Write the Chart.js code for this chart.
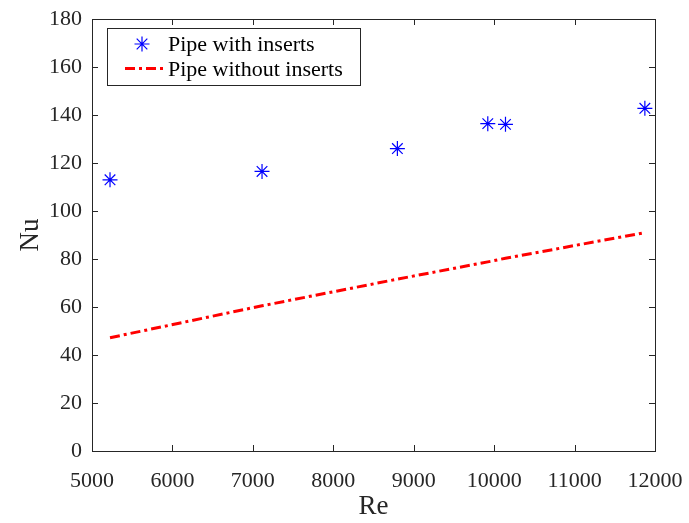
<!DOCTYPE html>
<html>
<head>
<meta charset="utf-8">
<script src="https://cdn.jsdelivr.net/npm/chart.js@4.4.0/dist/chart.umd.min.js"></script>
<style>
  body { margin: 0; background: #fff; }
  #wrap { width: 689px; height: 523px; }
</style>
</head>
<body>
<div id="wrap"><canvas id="chart" width="689" height="523"></canvas></div>
<script>
// Re values where the measurements were taken
var reValues = [5224, 7114, 8797, 9921, 10141, 11874];
// Nu, pipe with inserts (markers)
var nuInserts = [113.0, 116.5, 126.0, 136.4, 136.1, 142.8];
// Nu, pipe without inserts (dash-dot line)
var nuPlain = [47.2, 60.5, 71.6, 78.8, 80.3, 91.0];
var xTicks = [5000, 6000, 7000, 8000, 9000, 10000, 11000, 12000];
var yTicks = [0, 20, 40, 60, 80, 100, 120, 140, 160, 180];
var seriesNames = ["Pipe with inserts", "Pipe without inserts"];

var axisColor = "#262626";
var serif = "'Liberation Serif', 'Times New Roman', serif";

function toPoints(xs, ys) {
  return xs.map(function(x, i) { return {x: x, y: ys[i]}; });
}

function drawStar(ctx, x, y, r) {
  var d = r * Math.SQRT1_2;
  ctx.beginPath();
  ctx.moveTo(x - r, y); ctx.lineTo(x + r, y);
  ctx.moveTo(x, y - r); ctx.lineTo(x, y + r);
  ctx.moveTo(x - d, y - d); ctx.lineTo(x + d, y + d);
  ctx.moveTo(x - d, y + d); ctx.lineTo(x + d, y - d);
  ctx.stroke();
}

// box round the axes with inward ticks, like matlab
var framePlugin = {
  id: "frame",
  afterDraw: function(chart) {
    var ctx = chart.ctx;
    var a = chart.chartArea;
    var xs = chart.scales.x, ys = chart.scales.y;
    var len = 6;
    ctx.save();
    ctx.strokeStyle = axisColor;
    ctx.lineWidth = 1;
    ctx.strokeRect(Math.round(a.left) + 0.5, Math.round(a.top) + 0.5,
      Math.round(a.right - a.left), Math.round(a.bottom - a.top));
    ctx.beginPath();
    xTicks.forEach(function(v) {
      var px = Math.round(xs.getPixelForValue(v)) + 0.5;
      ctx.moveTo(px, a.bottom); ctx.lineTo(px, a.bottom - len);
      ctx.moveTo(px, a.top); ctx.lineTo(px, a.top + len);
    });
    yTicks.forEach(function(v) {
      var py = Math.round(ys.getPixelForValue(v)) + 0.5;
      ctx.moveTo(a.left, py); ctx.lineTo(a.left + len, py);
      ctx.moveTo(a.right, py); ctx.lineTo(a.right - len, py);
    });
    ctx.stroke();

    // legend
    var bx = 107.5, by = 28.5, bw = 253, bh = 57;
    ctx.fillStyle = "#fff";
    ctx.fillRect(bx, by, bw, bh);
    ctx.strokeStyle = axisColor;
    ctx.strokeRect(bx, by, bw, bh);
    ctx.strokeStyle = "#0000ff";
    ctx.lineWidth = 1.2;
    drawStar(ctx, 142, 44, 7.5);
    ctx.strokeStyle = "#ff0000";
    ctx.lineWidth = 3;
    ctx.setLineDash([10, 4, 3, 4]);
    ctx.beginPath();
    ctx.moveTo(125, 68.5); ctx.lineTo(163, 68.5);
    ctx.stroke();
    ctx.setLineDash([]);
    ctx.fillStyle = "#000";
    ctx.font = "22px " + serif;
    ctx.textBaseline = "middle";
    ctx.textAlign = "left";
    ctx.fillText(seriesNames[0], 168, 45);
    ctx.fillText(seriesNames[1], 168, 70);
    ctx.restore();
  }
};

new Chart(document.getElementById("chart"), {
  type: "scatter",
  data: {
    datasets: [
      {
        label: seriesNames[0],
        data: toPoints(reValues, nuInserts),
        showLine: false,
        pointStyle: "star",
        pointRadius: 7.5,
        pointBorderColor: "#0000ff",
        pointBackgroundColor: "#0000ff",
        pointBorderWidth: 1.2
      },
      {
        label: seriesNames[1],
        data: toPoints(reValues, nuPlain),
        showLine: true,
        pointRadius: 0,
        borderColor: "#ff0000",
        borderWidth: 3,
        borderDash: [10, 4, 3, 4],
        fill: false
      }
    ]
  },
  options: {
    responsive: false,
    animation: false,
    layout: { padding: { top: 19, right: 34, left: 0, bottom: 0 } },
    plugins: {
      legend: { display: false },
      tooltip: { enabled: false }
    },
    scales: {
      x: {
        type: "linear",
        min: 5000,
        max: 12000,
        afterBuildTicks: function(s) { s.ticks = xTicks.map(function(v) { return {value: v}; }); },
        afterFit: function(s) { s.height = 72; s.paddingLeft = 0; s.paddingRight = 0; },
        grid: { display: false, drawTicks: false },
        border: { display: false },
        ticks: {
          color: axisColor,
          font: { family: serif, size: 22 },
          padding: 17,
          maxRotation: 0,
          callback: function(v) { return String(v); }
        },
        title: {
          display: true,
          text: "Re",
          color: axisColor,
          font: { family: serif, size: 27 },
          padding: { top: -6, bottom: 0 }
        }
      },
      y: {
        type: "linear",
        min: 0,
        max: 180,
        afterBuildTicks: function(s) { s.ticks = yTicks.map(function(v) { return {value: v}; }); },
        afterFit: function(s) { s.width = 92; s.paddingTop = 0; s.paddingBottom = 0; },
        grid: { display: false, drawTicks: false },
        border: { display: false },
        ticks: {
          color: axisColor,
          font: { family: serif, size: 22 },
          padding: 10
        },
        title: {
          display: true,
          text: "Nu",
          color: axisColor,
          font: { family: serif, size: 27 },
          padding: { top: 15, bottom: 0 }
        }
      }
    }
  },
  plugins: [framePlugin]
});
</script>
</body>
</html>
